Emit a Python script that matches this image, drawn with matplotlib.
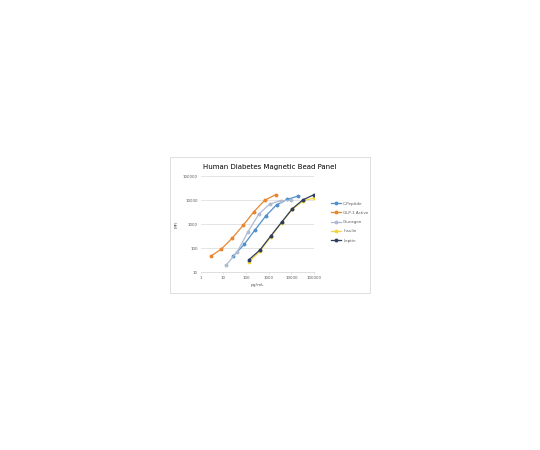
import matplotlib
matplotlib.use("Agg")
import matplotlib.pyplot as plt
from matplotlib.patches import Rectangle
from matplotlib.ticker import FixedLocator, FixedFormatter, NullLocator

# ---- data ----
cpep_x = [27.4, 82.3, 247, 741, 2222, 6667, 20000]
cpep_y = [46, 140, 560, 2150, 6300, 10600, 14700]

glp1_x = [2.74, 8.23, 24.7, 74.1, 222, 667, 2000]
glp1_y = [45, 91, 260, 870, 3250, 9700, 16600]

gluc_x = [13.7, 41.2, 123.5, 370, 1111, 3333, 10000]
gluc_y = [20, 70, 480, 2600, 6800, 9400, 9800]

ins_x = [137, 412, 1235, 3704, 11111, 33333, 100000]
ins_y = [27, 73, 295, 1150, 4100, 9400, 12000]

lep_x = [137, 412, 1235, 3704, 11111, 33333, 100000]
lep_y = [33, 83, 316, 1180, 4370, 10300, 16600]

series_names = ["C-Peptide", "GLP-1 Active", "Glucagon", "Insulin", "Leptin"]
x_ticks = [1, 10, 100, 1000, 10000, 100000]
x_tick_labels = ["1", "10", "100", "1000", "10000", "100000"]
y_ticks = [10, 100, 1000, 10000, 100000]
y_tick_labels = ["10", "100", "1000", "10000", "100000"]

title = "Human Diabetes Magnetic Bead Panel"
x_label = "pg/mL"
y_label = "MFI"

colors = ["#5290CC", "#E8872F", "#AEBBD0", "#F3D63F", "#2F3E5E"]

W, H = 540, 450
fig = plt.figure(figsize=(W / 100, H / 100), dpi=100)
fig.patch.set_facecolor("white")

# chart border
fig.patches.append(Rectangle((170 / W, 1 - 293 / H), 200 / W, 136 / H,
                             transform=fig.transFigure, fill=False,
                             edgecolor="#D9D9D9", linewidth=0.6))

ax = fig.add_axes([200.7 / W, 1 - 272 / H, 113.3 / W, 96 / H])
ax.set_xscale("log")
ax.set_yscale("log")
ax.set_xlim(1, 100000)
ax.set_ylim(10, 100000)

data = [(cpep_x, cpep_y), (glp1_x, glp1_y), (gluc_x, gluc_y),
        (ins_x, ins_y), (lep_x, lep_y)]
for (xs, ys), name, c in zip(data, series_names, colors):
    ax.plot(xs, ys, color=c, lw=0.9, marker="o", ms=1.8, label=name)

ax.xaxis.set_major_locator(FixedLocator(x_ticks))
ax.xaxis.set_major_formatter(FixedFormatter(x_tick_labels))
ax.yaxis.set_major_locator(FixedLocator(y_ticks))
ax.yaxis.set_major_formatter(FixedFormatter(y_tick_labels))
ax.xaxis.set_minor_locator(NullLocator())
ax.yaxis.set_minor_locator(NullLocator())
ax.tick_params(axis="both", labelsize=2.9, colors="#595959", length=0, pad=2)
ax.tick_params(axis="x", length=1.5, color="#D9D9D9", width=0.5, pad=1.5)
ax.grid(axis="y", color="#D9D9D9", lw=0.5)
for s in ["top", "right", "left"]:
    ax.spines[s].set_visible(False)
ax.spines["bottom"].set_color("#D9D9D9")
ax.spines["bottom"].set_linewidth(0.6)
ax.set_axisbelow(True)

ax.set_xlabel(x_label, fontsize=3.2, color="#595959", labelpad=2)
ax.set_ylabel(y_label, fontsize=3.2, color="#595959", labelpad=3)

fig.text(270 / W, 1 - 167 / H, title, ha="center", va="center",
         fontsize=5.0, color="#000000")

leg = ax.legend(loc="center left", bbox_to_anchor=(1.14, 0.52), frameon=False,
                fontsize=2.9, handlelength=2.4, handletextpad=0.5,
                labelspacing=1.3, borderaxespad=0)
for t in leg.get_texts():
    t.set_color("#595959")

fig.savefig("out.png", dpi=100, facecolor="white")
